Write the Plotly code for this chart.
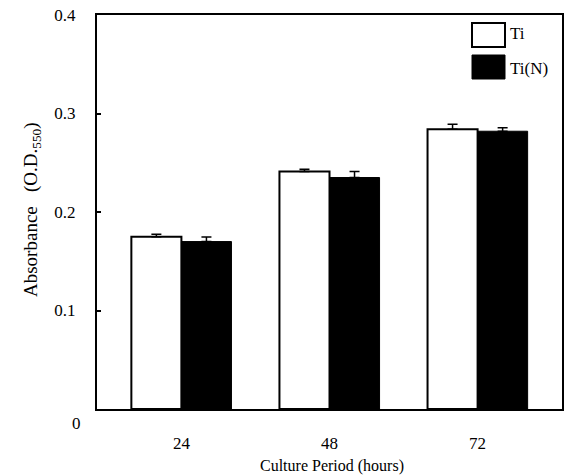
import plotly.graph_objects as go

categories = ["24", "48", "72"]
ti_values = [0.175, 0.241, 0.284]
ti_err = [0.0025, 0.0025, 0.005]
tin_values = [0.170, 0.235, 0.282]
tin_err = [0.0045, 0.006, 0.0035]
series_names = ["Ti", "Ti(N)"]
y_tickvals = [0.1, 0.2, 0.3, 0.4]
y_ticktext = ["0.1", "0.2", "0.3", "0.4"]
x_title = "Culture Period (hours)"
y_title = "Absorbance&nbsp;&nbsp;&nbsp;(O.D.<sub>550</sub>)"

FONT = "Liberation Serif"
W, H = 565, 476
L, R, T, B = 97, 562, 15, 409
PW, PH = R - L, B - T


def px(x):
    return (x - L) / PW


def py(y):
    return (B - y) / PH


fig = go.Figure()
fig.add_trace(go.Bar(
    x=categories, y=ti_values, name=series_names[0],
    marker=dict(color="white", line=dict(color="black", width=2)),
    error_y=dict(type="data", array=ti_err, symmetric=False, arrayminus=[0, 0, 0],
                 color="black", thickness=1.5, width=5),
))
fig.add_trace(go.Bar(
    x=categories, y=tin_values, name=series_names[1],
    marker=dict(color="black", line=dict(color="black", width=1)),
    error_y=dict(type="data", array=tin_err, symmetric=False, arrayminus=[0, 0, 0],
                 color="black", thickness=1.5, width=5),
))

# legend drawn as boxes + labels (top right)
fig.add_shape(type="rect", xref="paper", yref="paper",
              x0=px(472), x1=px(505), y0=py(47), y1=py(23),
              line=dict(color="black", width=2), fillcolor="white")
fig.add_shape(type="rect", xref="paper", yref="paper",
              x0=px(472), x1=px(505), y0=py(79), y1=py(55),
              line=dict(color="black", width=1), fillcolor="black")
fig.add_annotation(xref="paper", yref="paper", x=px(508), y=py(33),
                   text=series_names[0], showarrow=False, xanchor="left", yanchor="middle",
                   font=dict(family=FONT, size=17, color="black"))
fig.add_annotation(xref="paper", yref="paper", x=px(508), y=py(68),
                   text=series_names[1], showarrow=False, xanchor="left", yanchor="middle",
                   font=dict(family=FONT, size=17, color="black"))
# zero label (sits below the axis in the original)
fig.add_annotation(xref="paper", yref="y", x=0, y=0, xshift=-14, yshift=-14,
                   text="0", showarrow=False, xanchor="right", yanchor="middle",
                   font=dict(family=FONT, size=17, color="black"))
# axis titles
fig.add_annotation(xref="paper", yref="paper", x=px(332), y=py(466),
                   text=x_title, showarrow=False, xanchor="center", yanchor="middle",
                   font=dict(family=FONT, size=16, color="black"))
fig.add_annotation(xref="paper", yref="paper", x=px(32), y=py(210),
                   text=y_title, showarrow=False, xanchor="center", yanchor="middle",
                   textangle=-90, font=dict(family=FONT, size=19, color="black"))

fig.update_layout(
    width=W, height=H,
    margin=dict(l=L, r=W - R, t=T, b=H - B, autoexpand=False),
    paper_bgcolor="white", plot_bgcolor="white",
    barmode="group", bargap=0.324, bargroupgap=0,
    showlegend=False,
    font=dict(family=FONT, color="black", size=17),
)
fig.update_xaxes(
    type="category", range=[-0.57, 2.57], automargin=False,
    showline=True, linecolor="black", linewidth=2, mirror=True,
    showgrid=False, ticks="", ticklabelstandoff=18,
    tickfont=dict(family=FONT, size=17, color="black"),
)
fig.update_yaxes(
    range=[0, 0.4], tickvals=y_tickvals, ticktext=y_ticktext, automargin=False,
    showline=True, linecolor="black", linewidth=2, mirror=True,
    showgrid=False, zeroline=False, ticks="inside", ticklen=4, tickwidth=1.5, tickcolor="black",
    ticklabelstandoff=16,
    tickfont=dict(family=FONT, size=17, color="black"),
)

fig.write_html(
    "out.html",
    config={"displayModeBar": False},
    post_script="document.body.style.margin='0';document.body.style.padding='0';",
)
